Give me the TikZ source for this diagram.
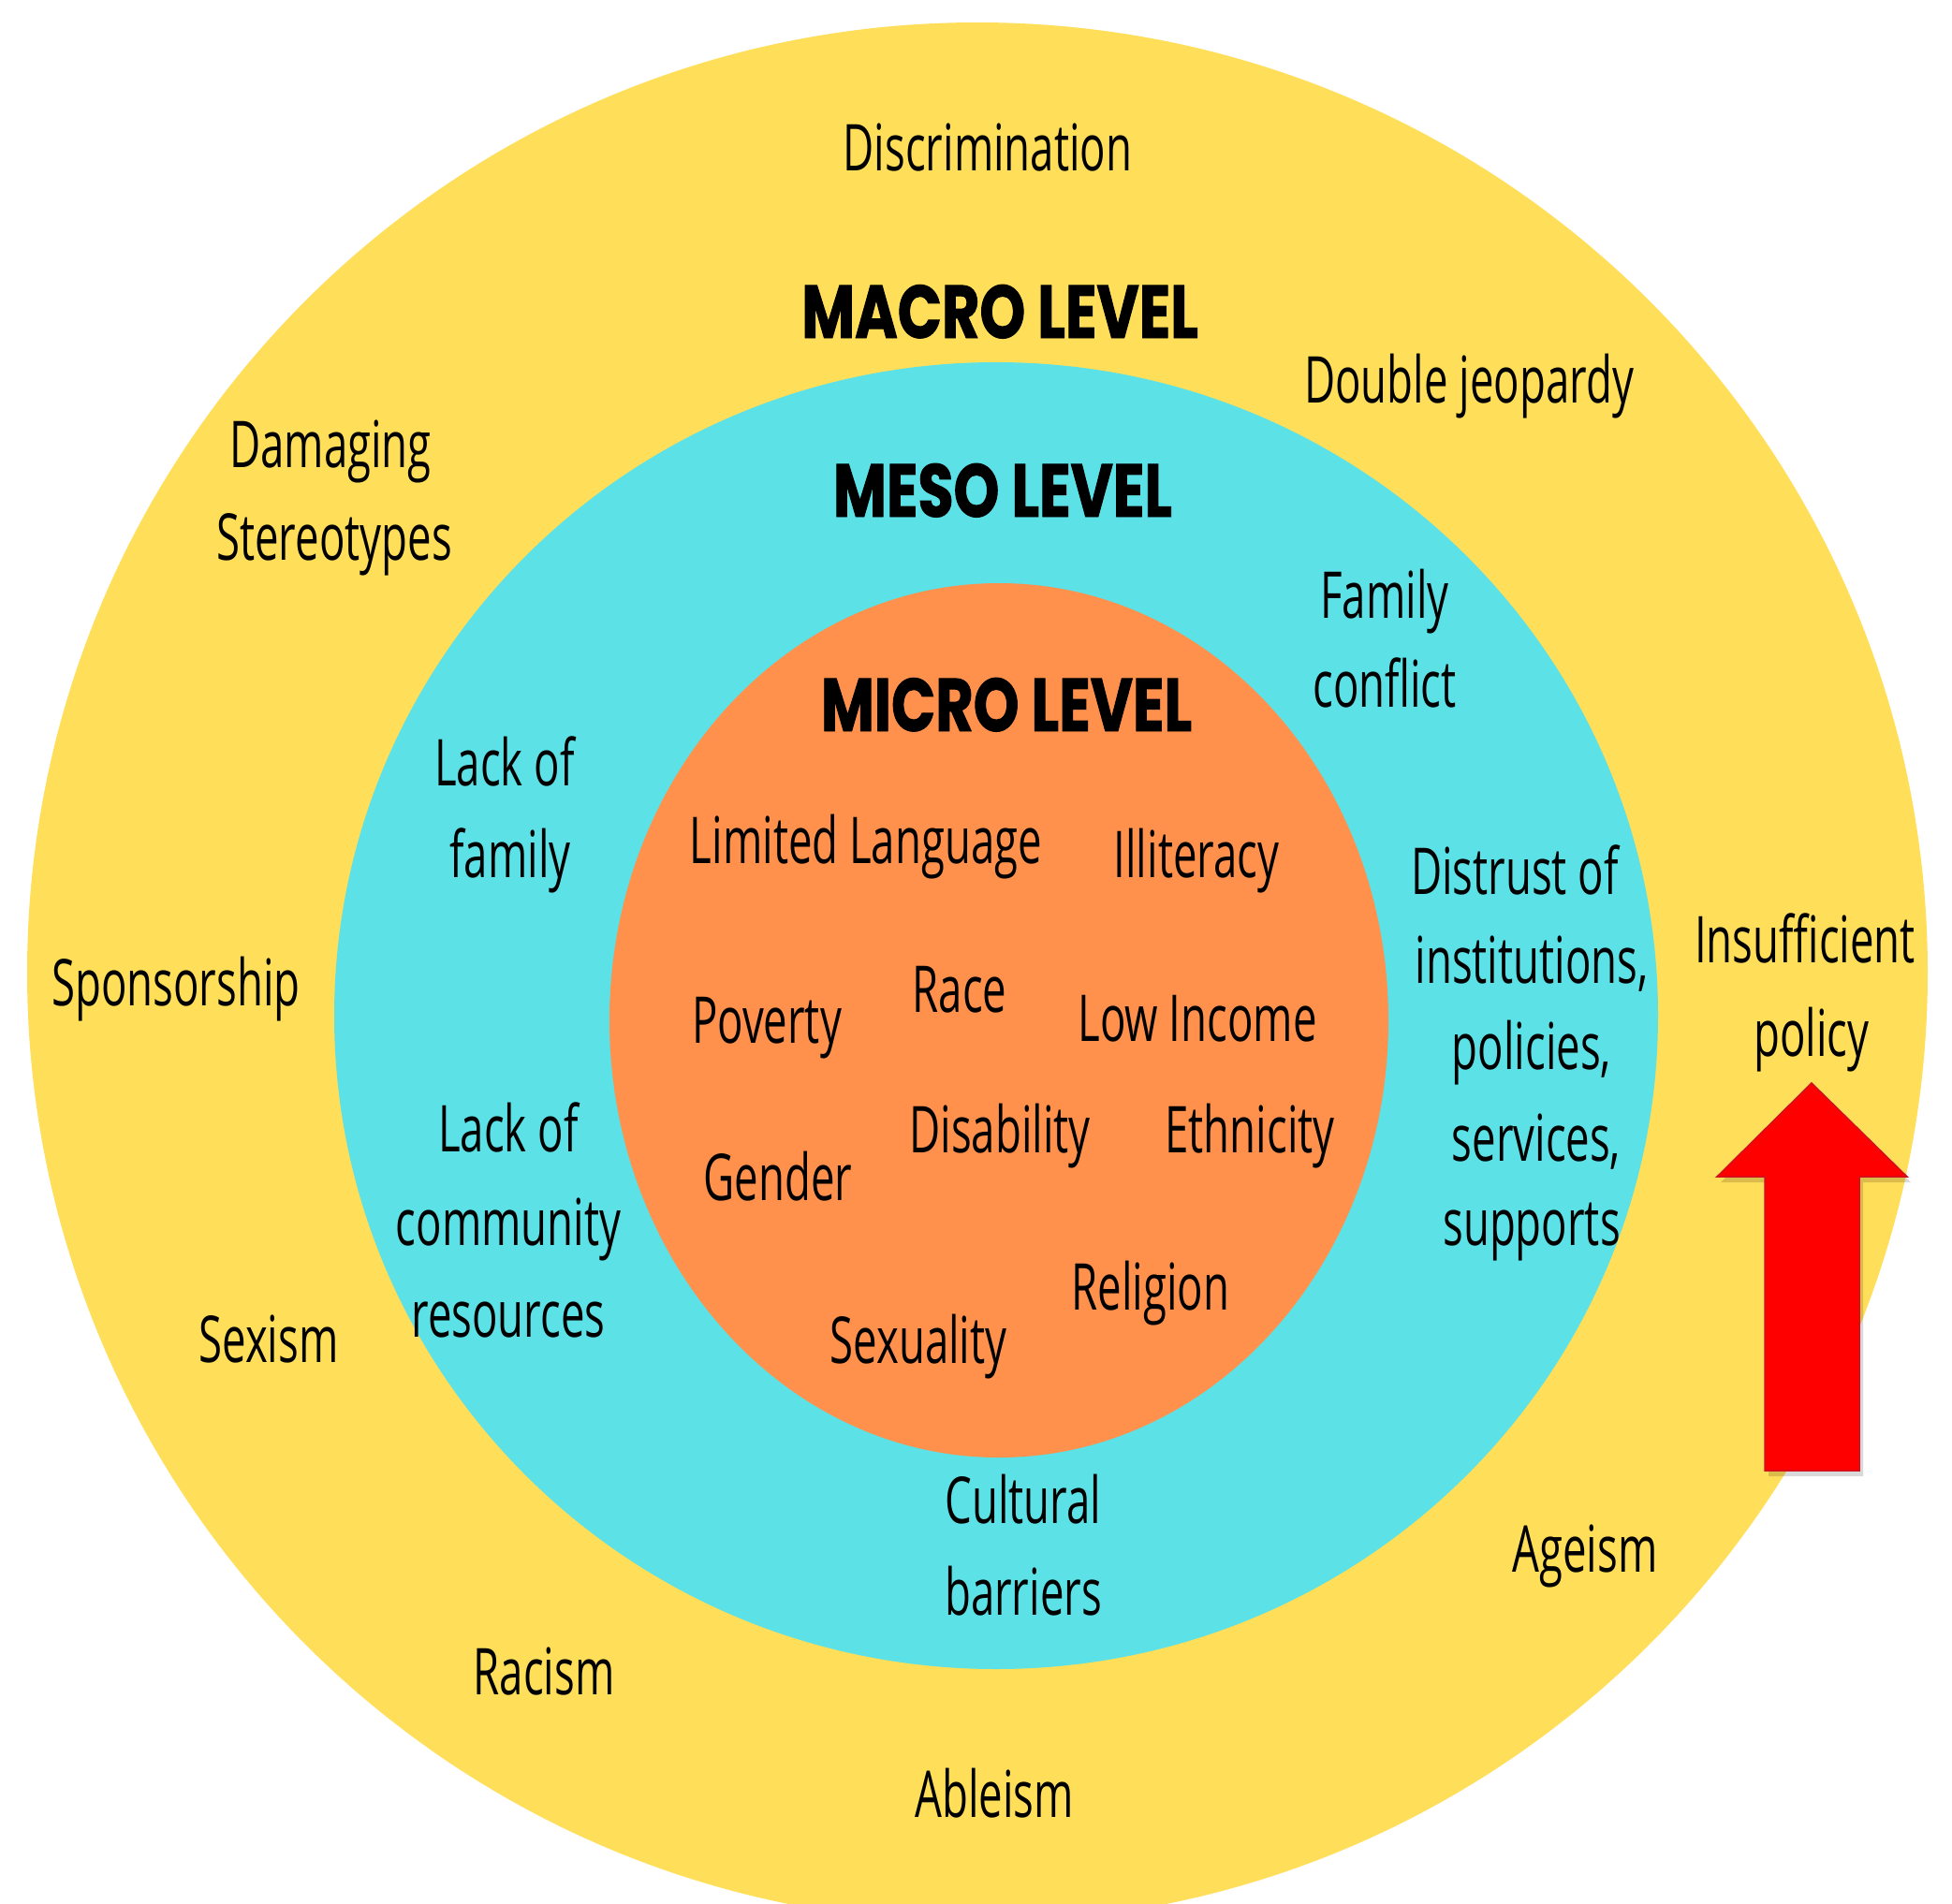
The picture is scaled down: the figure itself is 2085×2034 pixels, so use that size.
\documentclass[tikz,border=0pt]{standalone}
\usepackage{fontspec}
\setmainfont{Open Sans}[FakeStretch=0.66]
\newfontfamily\titlefont{Poppins}[FakeStretch=0.775,FakeBold=1.2]
\definecolor{macroc}{HTML}{FFDE59}
\definecolor{mesoc}{HTML}{5CE1E6}
\definecolor{microc}{HTML}{FF914D}
\definecolor{arrowred}{HTML}{FF0000}
\definecolor{arrowedge}{HTML}{D0101E}
\begin{document}
\begin{tikzpicture}[x=1pt,y=-1pt,
  lbl/.style={font=\fontsize{69}{80}\selectfont, anchor=base, inner sep=0pt},
  ttl/.style={font=\titlefont\bfseries\fontsize{80}{90}\selectfont, anchor=base, inner sep=0pt}]
\useasboundingbox (0,0) rectangle (2085,2034);
\clip (0,0) rectangle (2085,2034);
% rings
\fill[macroc] (1044,1039) circle [radius=1015];
\fill[mesoc] (1064,1085) ellipse [x radius=707, y radius=698];
\fill[microc] (1067,1090) ellipse [x radius=416, y radius=467];
% arrow shadow and arrow
\begin{scope}[shift={(4,6)}]
\fill[black,opacity=0.15] (1935,1157) -- (2037,1257) -- (1986,1257) -- (1986,1571) -- (1885,1571) -- (1885,1257) -- (1834,1257) -- cycle;
\end{scope}
\fill[arrowred, draw=arrowedge, line width=1.5] (1935,1157) -- (2037,1257) -- (1986,1257) -- (1986,1571) -- (1885,1571) -- (1885,1257) -- (1834,1257) -- cycle;
% titles
\node[ttl] (macro) at (1068,361) {MACRO LEVEL};
\node[ttl] (meso) at (1071,552) {MESO LEVEL};
\node[ttl] (micro) at (1075,781) {MICRO LEVEL};
% macro level
\node[lbl] (discr) at (1055,182) {Discrimination};
\node[lbl] (double) at (1569,430) {Double jeopardy};
\node[lbl] (damag1) at (353,499) {Damaging};
\node[lbl] (damag2) at (357,598) {Stereotypes};
\node[lbl] (spons) at (188,1074) {Sponsorship};
\node[lbl] (insuf1) at (1928,1028) {Insufficient};
\node[lbl] (insuf2) at (1935,1128) {policy};
\node[lbl] (sexism) at (287,1455) {Sexism};
\node[lbl] (ageism) at (1693,1679) {Ageism};
\node[lbl] (racism) at (581,1810) {Racism};
\node[lbl] (ableism) at (1062,1941) {Ableism};
% meso level
\node[lbl] (famc1) at (1479,660) {Family};
\node[lbl] (famc2) at (1479,755) {conflict};
\node[lbl] (lackf1) at (539,839) {Lack of};
\node[lbl] (lackf2) at (545,937) {family};
\node[lbl] (dist1) at (1618,955) {Distrust of};
\node[lbl] (dist2) at (1636,1050) {institutions,};
\node[lbl] (dist3) at (1636,1142) {policies,};
\node[lbl] (dist4) at (1641,1240) {services,};
\node[lbl] (dist5) at (1636,1330) {supports};
\node[lbl] (lackc1) at (543,1230) {Lack of};
\node[lbl] (lackc2) at (543,1330) {community};
\node[lbl] (lackc3) at (543,1428) {resources};
\node[lbl] (cult1) at (1093,1627) {Cultural};
\node[lbl] (cult2) at (1093,1725) {barriers};
% micro level
\node[lbl] (limlang) at (925,922) {Limited Language};
\node[lbl] (illit) at (1278,937) {Illiteracy};
\node[lbl] (poverty) at (819,1114) {Poverty};
\node[lbl] (race) at (1025,1081) {Race};
\node[lbl] (lowinc) at (1279,1112) {Low Income};
\node[lbl] (disab) at (1068,1231) {Disability};
\node[lbl] (ethn) at (1335,1231) {Ethnicity};
\node[lbl] (gender) at (831,1282) {Gender};
\node[lbl] (relig) at (1229,1399) {Religion};
\node[lbl] (sexual) at (981,1456) {Sexuality};
\end{tikzpicture}
\end{document}
